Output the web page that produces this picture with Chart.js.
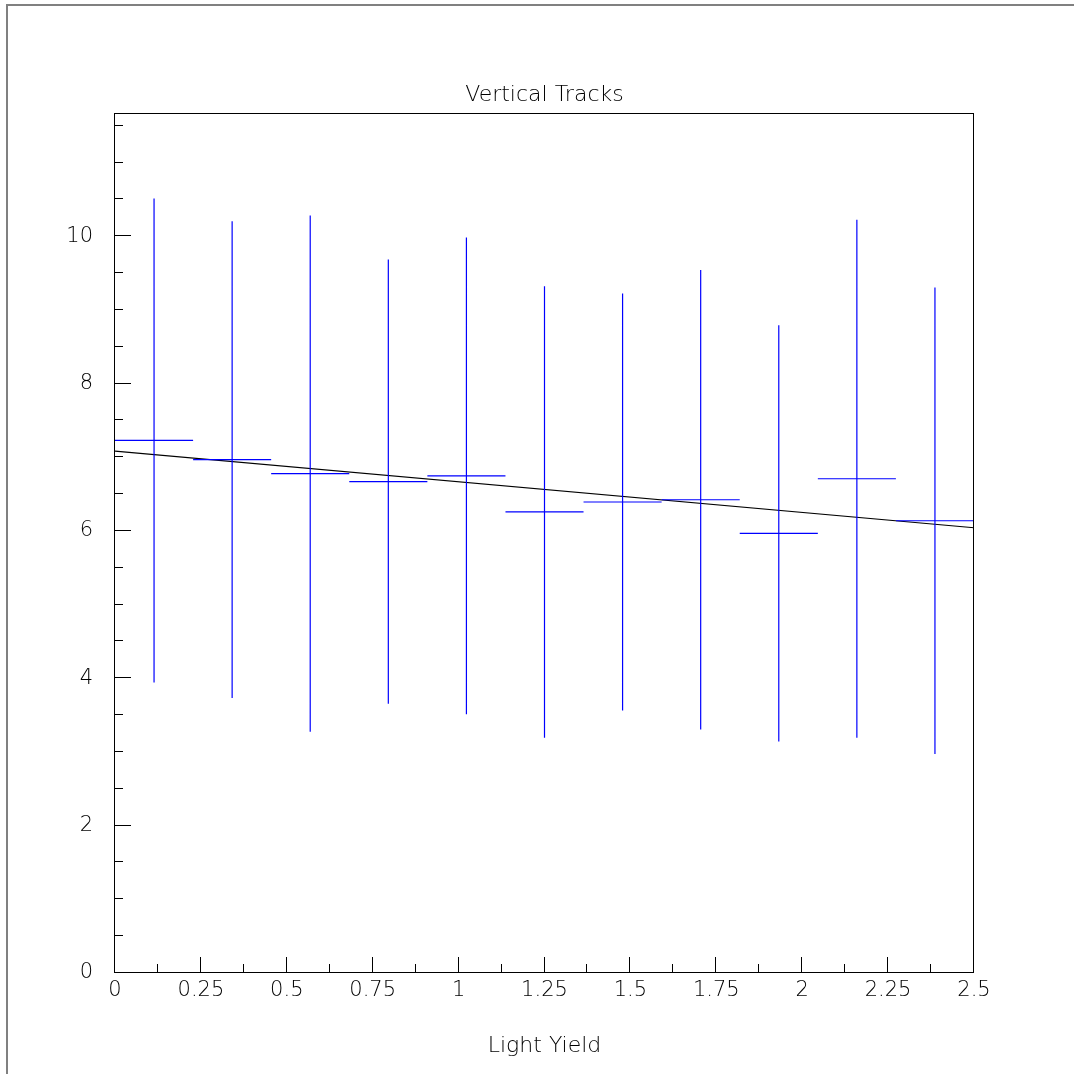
<!DOCTYPE html>
<html>
<head>
<meta charset="utf-8">
<title>Vertical Tracks</title>
<script src="https://cdn.jsdelivr.net/npm/chart.js@4.4.1/dist/chart.umd.min.js"></script>
<style>
  html, body { margin: 0; padding: 0; background: #fff; }
  canvas { display: block; }
</style>
</head>
<body>
<canvas id="chartTracks" width="1074" height="1074"></canvas>
<script>
// bin edges on the light-yield axis (11 bins)
var binEdges = [0, 0.2273, 0.4545, 0.6818, 0.9091, 1.1364, 1.3636, 1.5909, 1.8182, 2.0455, 2.2727, 2.5];
// bin content and its error
var binValues = [7.215, 6.955, 6.765, 6.655, 6.735, 6.245, 6.38, 6.41, 5.955, 6.695, 6.125];
var binErrors = [3.285, 3.235, 3.505, 3.015, 3.235, 3.065, 2.83, 3.12, 2.825, 3.515, 3.165];
// straight-line fit, end points
var fitX = [0, 2.5];
var fitY = [7.07, 6.03];
// axis ticks
var xTickLabels = ["0", "0.25", "0.5", "0.75", "1", "1.25", "1.5", "1.75", "2", "2.25", "2.5"];
var xMinorStep = 0.125;
var yTickLabels = ["0", "2", "4", "6", "8", "10"];
var yMinorStep = 0.5;
var X_MAX = 2.5, Y_MAX = 11.66;

(function () {
  var FONT = "'DejaVu Sans', 'Liberation Sans', sans-serif";
  var BLUE = "#0000ff";

  // ── error-bar crosses, as broken line segments ──
  var hbars = [], vbars = [];
  for (var i = 0; i < binValues.length; i++) {
    var lo = binEdges[i], hi = binEdges[i + 1], mid = (lo + hi) / 2;
    hbars.push({ x: lo, y: binValues[i] }, { x: hi, y: binValues[i] }, { x: hi, y: null });
    vbars.push({ x: mid, y: binValues[i] - binErrors[i] }, { x: mid, y: binValues[i] + binErrors[i] }, { x: mid, y: null });
  }
  var fitLine = fitX.map(function (x, k) { return { x: x, y: fitY[k] }; });

  // ── frame, ticks and text, placed with the chart's scales ──
  var rootFrame = {
    id: "rootFrame",
    afterDraw: function (chart) {
      var ctx = chart.ctx, a = chart.chartArea;
      var xs = chart.scales.x, ys = chart.scales.y;
      ctx.save();

      // outer pad border
      ctx.fillStyle = "#808080";
      ctx.fillRect(7, 4, 1067, 2);
      ctx.fillRect(6, 4, 2, 1070);

      // plot frame
      ctx.strokeStyle = "#000";
      ctx.lineWidth = 1;
      ctx.strokeRect(a.left - 0.5, a.top + 0.5, a.right - a.left, a.bottom - a.top);

      // x ticks (inward, from the bottom axis)
      ctx.beginPath();
      var nx = Math.round(X_MAX / xMinorStep);
      for (var i = 0; i <= nx; i++) {
        var px = Math.round(xs.getPixelForValue(i * xMinorStep)) - 0.5;
        var len = i % 2 === 0 ? 15 : 8;
        ctx.moveTo(px, a.bottom);
        ctx.lineTo(px, a.bottom - len);
      }
      // y ticks (inward, from the left axis)
      var ny = Math.floor(Y_MAX / yMinorStep);
      for (var j = 0; j <= ny; j++) {
        var py = Math.round(ys.getPixelForValue(j * yMinorStep)) + 0.5;
        var ylen = j % 4 === 0 ? 16 : 8;
        ctx.moveTo(a.left, py);
        ctx.lineTo(a.left + ylen, py);
      }
      ctx.stroke();

      // tick labels
      ctx.fillStyle = "#000";
      ctx.font = "200 21px " + FONT;
      ctx.textAlign = "center";
      ctx.textBaseline = "middle";
      xTickLabels.forEach(function (t) {
        ctx.fillText(t, xs.getPixelForValue(parseFloat(t)), a.bottom + 19);
      });
      ctx.textAlign = "right";
      yTickLabels.forEach(function (t) {
        ctx.fillText(t, a.left - 22, ys.getPixelForValue(parseFloat(t)) + 1);
      });

      // titles
      ctx.font = "200 22px " + FONT;
      ctx.textAlign = "center";
      ctx.fillText("Vertical Tracks", (a.left + a.right) / 2, a.top - 18);
      ctx.fillText("Light Yield", (a.left + a.right) / 2, a.bottom + 74);
      ctx.restore();
    }
  };

  new Chart(document.getElementById("chartTracks"), {
    type: "scatter",
    data: {
      datasets: [
        { label: "bins", data: hbars, showLine: true, spanGaps: false, borderColor: BLUE, borderWidth: 1.2, pointRadius: 0 },
        { label: "errors", data: vbars, showLine: true, spanGaps: false, borderColor: BLUE, borderWidth: 1.2, pointRadius: 0 },
        { label: "fit", data: fitLine, showLine: true, borderColor: "#000", borderWidth: 1.1, pointRadius: 0 },
      ],
    },
    options: {
      responsive: false,
      animation: false,
      layout: { padding: { left: 115, top: 113, right: 100, bottom: 102 } },
      plugins: { legend: { display: false }, tooltip: { enabled: false } },
      scales: {
        x: { type: "linear", min: 0, max: X_MAX, display: false },
        y: { type: "linear", min: 0, max: Y_MAX, display: false },
      },
    },
    plugins: [rootFrame],
  });
})();
</script>
</body>
</html>
